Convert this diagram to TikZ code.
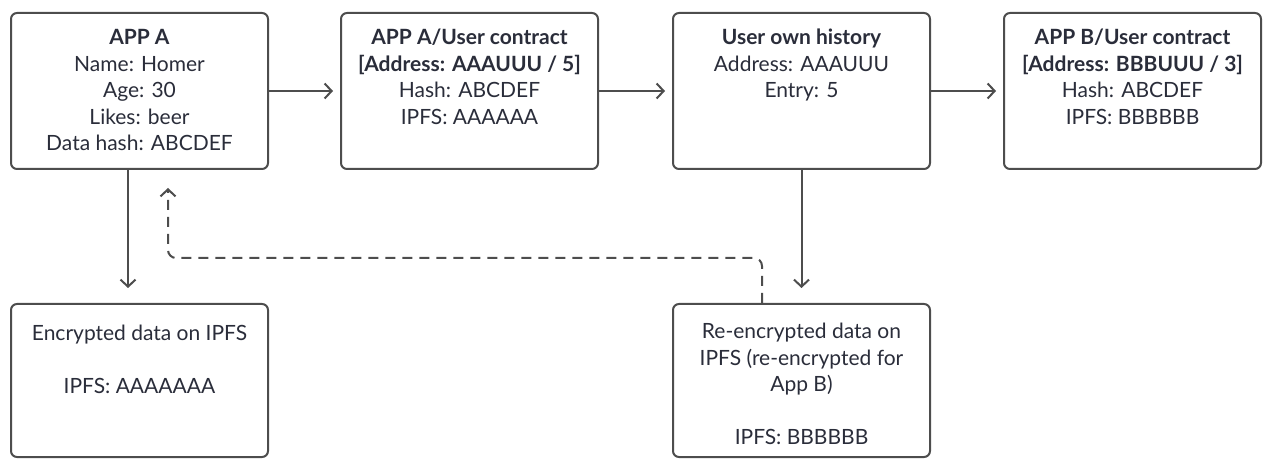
\documentclass[tikz,border=0pt]{standalone}
\usepackage{fontspec}
\setmainfont{Lato}
\usetikzlibrary{arrows.meta,positioning}

\definecolor{linegray}{HTML}{4D4D4D}
\definecolor{textdark}{HTML}{2A2D3A}

\tikzset{
	box/.style={draw=linegray, line width=2pt, rounded corners=6pt, fill=white,
		minimum width=257pt, minimum height=156pt, inner sep=0pt},
	boxtext/.style={align=center, inner sep=0pt, text=textdark,
		font=\fontsize{21}{26.5}\selectfont},
	flow/.style={draw=linegray, line width=2pt, line join=round,
		-{Straight Barb[length=7pt,width=15pt,line width=2pt]}}
}

\begin{document}
\begin{tikzpicture}[x=1pt,y=1pt]
			\useasboundingbox (0,0) rectangle (1263,458);
			
			% top row
			\node[box] (appA) at (139.5,367) {};
			\node[box] (contractA) at (469.5,367) {};
			\node[box] (history) at (801.5,367) {};
			\node[box] (contractB) at (1132.5,367) {};
			
			\node[boxtext, below=14pt of appA.north] (appAtxt) {\strut\textbf{APP A}\\Name: Homer\\Age: 30\\Likes: beer\\Data hash: ABCDEF};
			\node[boxtext, below=14pt of contractA.north] (contractAtxt) {\strut\textbf{APP A/User contract}\\\textbf{[Address: AAAUUU / 5]}\\Hash: ABCDEF\\IPFS: AAAAAA};
			\node[boxtext, below=14pt of history.north] (historytxt) {\strut\textbf{User own history}\\Address: AAAUUU\\Entry: 5};
			\node[boxtext, below=14pt of contractB.north] (contractBtxt) {\strut\textbf{APP B/User contract}\\\textbf{[Address: BBBUUU / 3]}\\Hash: ABCDEF\\IPFS: BBBBBB};
			
			% bottom row
			\node[box, minimum height=153pt] (encData) at (139.5,77.5) {};
			\node[box, minimum height=153pt] (reData) at (801.5,77.5) {};
			
			\node[boxtext, below=19pt of encData.north] (encDatatxt) {\strut Encrypted data on IPFS\\ \\IPFS: AAAAAAA};
			\node[boxtext, below=17pt of reData.north] (reDatatxt) {\strut Re-encrypted data on\\IPFS (re-encrypted for\\App B)\\ \\IPFS: BBBBBB};
			
			\draw[flow, shorten >=7pt] (appA) -- (contractA);
			\draw[flow, shorten >=7pt] (contractA) -- (history);
			\draw[flow, shorten >=7pt] (history) -- (contractB);
			\draw[flow, shorten >=15pt] ([xshift=-11.5pt]appA.south) -- ([xshift=-11.5pt]encData.north);
			\draw[flow, shorten >=15pt] (history.south) -- (reData.north);
			\draw[flow, dashed, dash pattern=on 10pt off 7pt, rounded corners=8pt] ([xshift=-39.5pt]reData.north) |- ([xshift=28.5pt,yshift=-88pt]appA.south) -- ([xshift=28.5pt,yshift=-18pt]appA.south);
\end{tikzpicture}
\end{document}
